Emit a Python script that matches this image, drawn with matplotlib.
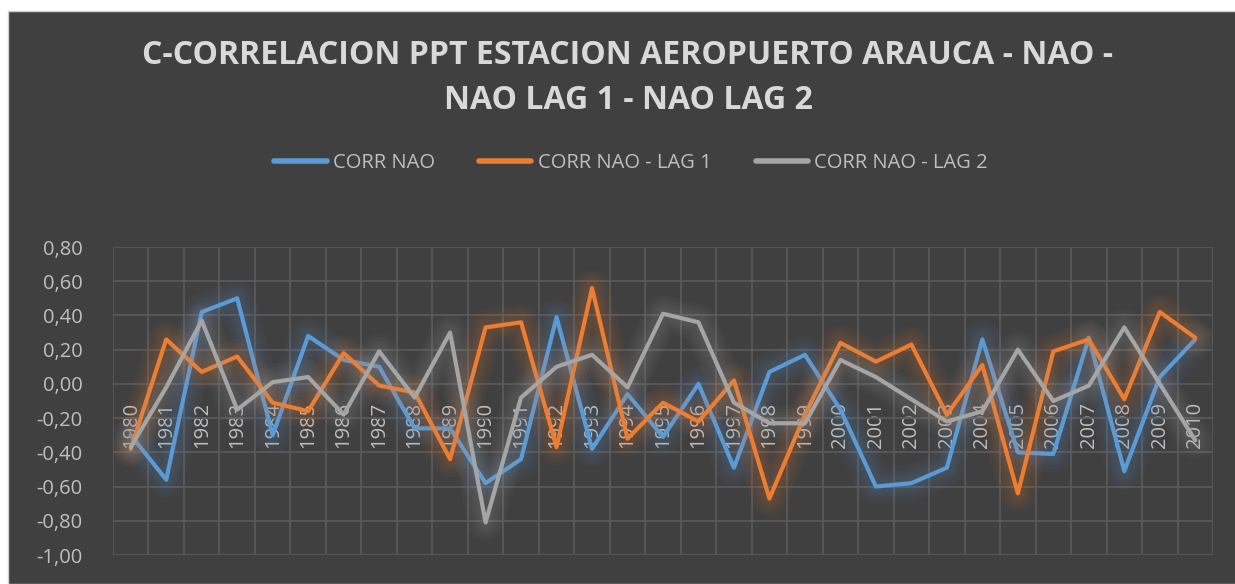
import numpy as np
import matplotlib
matplotlib.use('Agg')
import matplotlib.pyplot as plt
import matplotlib.patheffects as pe
from matplotlib.ticker import FuncFormatter, MultipleLocator

years = list(range(1980, 2011))
corr_nao = [-0.30, -0.56, 0.42, 0.50, -0.30, 0.28, 0.14, 0.10, -0.26, -0.26,
            -0.58, -0.44, 0.39, -0.38, -0.06, -0.31, 0.00, -0.49, 0.07, 0.17,
            -0.15, -0.60, -0.58, -0.49, 0.26, -0.40, -0.41, 0.27, -0.51, 0.04, 0.26]
corr_lag1 = [-0.38, 0.26, 0.07, 0.16, -0.11, -0.16, 0.18, -0.01, -0.05, -0.44,
             0.33, 0.36, -0.37, 0.56, -0.32, -0.11, -0.22, 0.02, -0.67, -0.18,
             0.24, 0.13, 0.23, -0.18, 0.11, -0.64, 0.19, 0.26, -0.09, 0.42, 0.27]
corr_lag2 = [-0.37, -0.02, 0.37, -0.15, 0.01, 0.04, -0.18, 0.19, -0.08, 0.30,
             -0.81, -0.08, 0.10, 0.17, -0.02, 0.41, 0.36, -0.11, -0.23, -0.23,
             0.14, 0.04, -0.09, -0.22, -0.16, 0.20, -0.10, -0.01, 0.33, 0.00, -0.33]

series = [("CORR NAO", corr_nao, "#5B9BD5"),
          ("CORR NAO - LAG 1", corr_lag1, "#ED7D31"),
          ("CORR NAO - LAG 2", corr_lag2, "#A5A5A5")]

plt.rcParams['font.family'] = ['Open Sans', 'DejaVu Sans']
BG = "#404040"
TXT = "#BFBFBF"

fig = plt.figure(figsize=(12.35, 5.84), dpi=100)
fig.patch.set_facecolor("white")
# chart area (white margin top/left like the screenshot)
fig.patches.append(plt.Rectangle((8/1235, 0), 1, 1 - 11/584, transform=fig.transFigure,
                                 facecolor=BG, edgecolor="#D0D0D0", lw=1, zorder=-5))

ax = fig.add_axes([113/1235, 1 - 555/584, 1100/1235, (555 - 247)/584])
ax.set_zorder(2)
ax.set_facecolor(BG)
x = np.arange(len(years))

# soft glow like Excel's line glow
glow_w = [26, 21, 16, 12, 8]
for i, (name, vals, col) in enumerate(series):
    fx = [pe.Stroke(linewidth=w, foreground=col, alpha=0.045) for w in glow_w] + [pe.Normal()]
    ax.plot(x, vals, color=col, lw=3, label=name, zorder=3 + i, solid_capstyle='round',
            path_effects=fx)

ax.set_xlim(-0.5, len(years) - 0.5)
ax.set_ylim(-1.0, 0.8)
ax.yaxis.set_major_locator(MultipleLocator(0.2))
ax.yaxis.set_major_formatter(FuncFormatter(lambda v, p: f"{v:.2f}".replace(".", ",").replace("-0,00", "0,00")))
ax.spines['bottom'].set_position(('data', 0))
for s in ax.spines.values():
    s.set_visible(False)
ax.set_xticks(x)
ax.set_xticklabels([str(y) for y in years])
ax.set_xticks(np.arange(-0.5, len(years)), minor=True)
ax.tick_params(axis='x', which='both', length=0, pad=13, labelsize=14.5, labelcolor=TXT,
               labelrotation=90)
ax.tick_params(axis='y', length=0, pad=22, labelsize=14.5, labelcolor=TXT)
ax.grid(axis='y', which='major', color="#595959", lw=1.3)
ax.grid(axis='x', which='minor', color="#595959", lw=1.3)
ax.set_axisbelow(True)
for lbl in ax.get_xticklabels():
    lbl.set_va('top')

fig.text(628/1235, 1 - 78/584, "C-CORRELACION PPT ESTACION AEROPUERTO ARAUCA - NAO -\nNAO LAG 1 - NAO LAG 2",
         ha='center', va='center', fontsize=23, fontweight='bold', color="#D9D9D9", linespacing=1.5)

leg = fig.legend(loc='center', bbox_to_anchor=(631/1235, 1 - 163/584), ncol=3, frameon=False,
                 fontsize=14.5, handlelength=2.6, columnspacing=2.2, handletextpad=0.3)
for t in leg.get_texts():
    t.set_color(TXT)
for h in leg.get_lines():
    h.set_linewidth(4)
    h.set_path_effects([])

fig.savefig("out.png", dpi=100, facecolor=fig.get_facecolor())
